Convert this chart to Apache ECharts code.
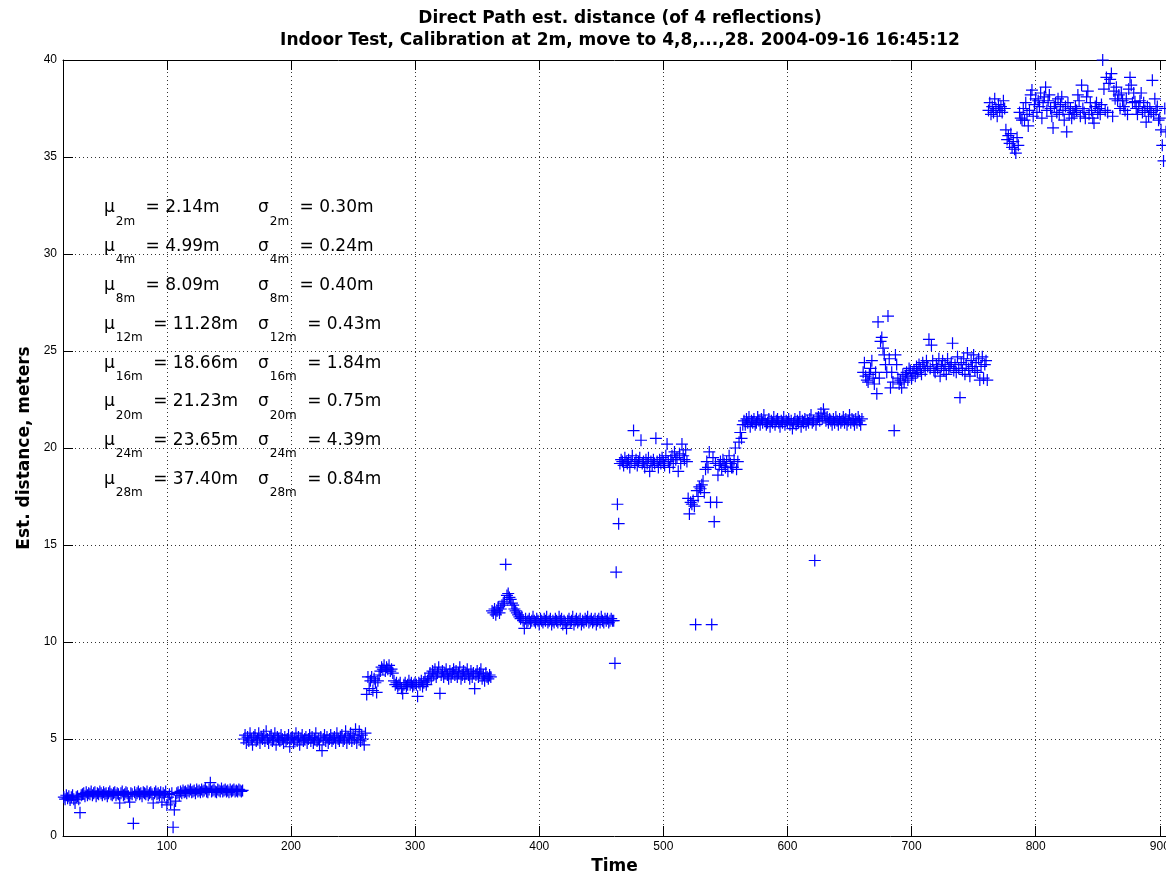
<!DOCTYPE html>
<html><head><meta charset="utf-8">
<script src="https://cdn.jsdelivr.net/npm/echarts@6/dist/echarts.min.js"></script>
<style>html,body{margin:0;padding:0;background:#fff}#c{width:1166px;height:875px}</style>
</head><body><div id="c"></div>
<script>
// ---- data ----
const xTicks = [100, 200, 300, 400, 500, 600, 700, 800, 900];
const yTicks = [0, 5, 10, 15, 20, 25, 30, 35, 40];
const segmentStart = [17, 162, 261, 362, 461, 565, 661, 762];

const dist2m = [
2.0,1.9,2.1,1.95,2.05,1.85,2.0,2.1,1.9,1.7,
2.0,2.05,1.9,1.2,2.1,2.15,2.2,2.05,2.25,2.1,
2.2,2.15,2.3,2.1,2.2,2.25,2.05,2.2,2.15,2.3,
2.2,2.1,2.25,2.15,2.2,2.05,2.2,2.3,2.15,2.1,
2.2,2.25,2.1,2.2,2.15,1.7,2.2,2.3,2.1,2.15,
2.25,2.2,2.05,1.75,2.2,2.15,0.65,2.25,2.1,2.2,
2.3,2.15,2.2,2.05,2.25,2.2,2.15,2.3,2.1,2.2,
2.25,2.15,1.7,2.2,2.3,2.15,2.2,2.1,2.25,1.75,
2.2,2.1,2.3,1.6,2.0,2.15,1.7,2.2,0.45,1.35,
1.8,2.2,2.25,2.1,2.3,2.2,2.35,2.25,2.3,2.2,
2.35,2.3,2.4,2.25,2.3,2.35,2.2,2.4,2.3,2.35,
2.25,2.4,2.3,2.35,2.45,2.3,2.25,2.4,2.75,2.3,
2.35,2.4,2.3,2.25,2.4,2.35,2.3,2.45,2.3,2.35,
2.4,2.3,2.35,2.25,2.4,2.3,2.35,2.4,2.3,2.35,
2.3,2.4,2.35,2.3,2.35];

const dist4m = [
5.0,5.2,4.8,5.1,4.9,5.3,5.0,4.7,5.1,5.2,
4.9,5.0,5.3,4.8,5.1,5.0,5.2,4.9,5.4,5.0,
4.8,5.1,5.2,4.9,5.0,5.3,4.7,5.1,5.0,4.9,
5.2,5.0,4.8,5.1,4.9,5.0,5.2,4.6,5.0,5.1,
4.8,5.0,5.3,4.9,5.1,4.7,5.0,5.2,4.9,5.0,
5.1,4.8,5.0,5.2,4.9,5.1,4.8,5.0,5.3,4.9,
5.0,4.7,5.1,4.4,5.0,5.2,4.9,5.1,4.8,5.0,
5.2,4.9,5.0,5.1,4.8,5.3,5.0,4.9,5.1,5.2,
4.9,5.0,5.4,4.8,5.1,5.0,5.3,4.9,5.2,5.0,
5.5,4.8,5.1,5.4,4.9,5.2,5.0,4.7,5.3];

const dist8m = [
7.3,8.2,7.6,8.0,8.2,7.5,8.1,7.9,7.4,8.0,
8.3,8.5,8.7,8.6,8.8,8.5,8.7,8.6,8.8,8.5,
8.6,8.4,8.0,7.8,7.9,7.7,7.8,7.9,7.6,7.35,
7.8,7.9,7.7,7.8,8.0,7.8,7.9,7.7,7.8,7.9,
7.8,7.2,7.9,7.8,8.0,7.7,7.9,8.1,7.8,8.0,
8.2,8.4,8.1,8.5,8.3,8.6,8.2,8.4,8.7,7.35,
8.3,8.5,8.2,8.4,8.6,8.3,8.1,8.5,8.2,8.4,
8.6,8.3,8.5,8.2,8.4,8.7,8.1,8.3,8.5,8.2,
8.4,8.6,8.3,8.1,8.5,8.2,8.4,7.6,8.3,8.5,
8.2,8.4,8.6,8.1,8.3,8.0,8.4,8.2,8.1,8.3,
8.2];

const dist12m = [
11.6,11.5,11.7,11.4,11.6,11.8,11.5,11.7,11.9,12.0,
12.1,14.0,12.4,12.5,12.3,12.2,12.0,11.9,11.7,11.6,
11.5,11.4,11.3,11.2,11.3,11.1,10.7,11.2,11.0,11.1,
11.2,11.0,11.1,11.3,11.1,11.0,11.2,11.1,10.9,11.2,
11.1,11.0,11.2,11.1,11.3,11.0,11.1,11.2,10.9,11.1,
11.0,11.2,11.1,11.0,11.3,11.1,11.2,10.9,11.1,11.0,
10.7,11.1,11.2,11.0,11.1,11.3,10.9,11.1,11.2,11.0,
11.1,11.2,10.9,11.1,11.0,11.2,11.1,11.3,11.0,11.1,
11.2,11.0,11.1,11.2,10.9,11.1,11.2,11.0,11.3,11.1,
11.0,11.2,11.1,11.2,11.0,11.1,11.2,11.1,11.1];

const dist16m = [
8.9,13.6,17.1,16.1,19.2,19.4,19.3,19.1,19.5,19.3,
19.2,19.4,19.0,19.3,19.6,20.9,19.2,19.4,19.1,19.3,
19.5,20.4,19.2,19.3,19.0,19.4,19.2,19.5,18.8,19.3,
19.1,19.4,19.2,20.5,19.3,19.0,19.4,19.2,19.5,19.3,
19.1,19.6,20.2,19.3,19.0,19.4,19.6,19.2,19.8,19.4,
19.5,18.8,19.7,19.2,20.2,19.6,19.4,19.9,19.3,17.4,
16.6,17.2,17.1,17.3,17.0,10.9,17.8,17.5,18.0,17.9,
18.1,18.3,17.7,18.9,19.3,19.0,19.8,17.2,10.9,19.5,
16.2,19.2,17.2,18.6,19.1,19.3,18.9,19.4,19.2,19.0,
19.3,18.8,19.6,19.2,19.0,19.0,19.4,20.0,18.9,19.3,
20.3,20.8,20.5,21.2];

const dist20m = [
21.4,21.2,21.5,21.3,21.6,21.1,21.4,21.3,21.5,21.2,
21.3,21.6,21.4,21.2,21.5,21.3,21.7,21.4,21.2,21.3,
21.5,21.1,21.4,21.3,21.6,21.2,21.4,21.5,21.3,21.1,
21.4,21.3,21.6,21.2,21.4,21.3,21.5,21.2,21.4,21.0,
21.3,21.5,21.2,21.4,21.3,21.6,21.1,21.4,21.3,21.5,
21.2,21.4,21.3,21.5,21.7,21.3,21.4,14.2,21.2,21.5,
21.6,21.4,21.8,21.5,22.0,21.7,21.4,21.6,21.3,21.5,
21.4,21.2,21.5,21.3,21.6,21.4,21.2,21.5,21.3,21.4,
21.6,21.3,21.5,21.2,21.4,21.7,21.3,21.5,21.4,21.2,
21.5,21.3,21.6,21.4,21.2,21.5];

const dist24m = [
23.9,24.4,23.7,23.5,23.4,23.8,24.1,24.5,23.6,23.3,
23.9,22.8,26.5,23.6,25.5,25.7,25.15,24.8,24.3,23.9,
26.8,24.6,23.1,23.9,23.4,20.9,24.8,24.3,23.6,23.3,
23.5,23.1,23.8,23.4,23.7,23.9,23.5,24.1,24.0,23.6,
23.85,24.0,23.7,24.2,23.9,24.3,24.1,23.8,24.4,24.2,
24.0,24.5,24.2,25.6,24.1,25.3,24.5,24.0,23.9,24.3,
24.1,24.6,23.7,24.2,24.5,24.0,24.3,23.8,24.6,24.1,
24.2,24.4,25.4,24.0,24.3,23.9,24.7,24.1,22.6,24.4,
24.0,24.6,23.8,24.3,24.9,24.1,23.7,24.5,24.2,24.8,
24.0,24.4,23.9,24.6,23.5,24.2,24.7,23.6,24.3,24.5,
23.5];

const dist28m = [
37.4,37.8,37.2,37.6,37.3,38.0,37.5,37.1,37.7,37.4,
37.6,37.3,37.9,37.5,36.4,35.9,36.1,35.7,36.2,35.5,
35.8,35.4,35.2,36.0,35.6,37.3,37.0,36.9,37.5,36.9,
37.8,37.2,36.6,37.4,38.2,38.45,37.1,37.7,38.0,37.3,
37.9,37.6,38.3,37.0,37.8,38.1,38.6,37.4,37.9,38.2,
37.5,37.1,36.5,37.6,37.8,37.3,38.0,37.2,37.7,38.1,
37.4,36.9,37.6,36.3,37.8,37.2,37.5,37.0,37.3,37.2,
37.6,37.4,38.2,37.9,37.1,38.7,37.5,37.3,37.0,38.1,
38.4,37.2,37.8,37.4,37.0,36.75,37.6,37.8,37.3,37.5,
37.2,37.7,40.0,38.5,37.4,39.1,37.3,38.8,39.0,39.3,
37.1,38.4,38.0,38.6,37.9,38.2,37.5,38.3,37.9,37.6,
37.4,38.0,37.2,38.5,39.1,38.7,37.8,38.3,37.85,37.5,
37.2,37.6,37.9,38.3,37.3,37.8,37.4,36.8,37.6,37.1,
37.5,37.3,38.95,37.2,38.0,37.4,37.6,36.9,37.0,36.4,
35.6,34.8,37.5,36.3];

const statLabels = ['2m', '4m', '8m', '12m', '16m', '20m', '24m', '28m'];
const statMeans = ['2.14', '4.99', '8.09', '11.28', '18.66', '21.23', '23.65', '37.40'];
const statStds = ['0.30', '0.24', '0.40', '0.43', '1.84', '0.75', '4.39', '0.84'];

const titleLines = [
  'Direct Path est. distance (of 4 reflections)',
  'Indoor Test, Calibration at 2m, move to 4,8,...,28. 2004-09-16 16:45:12'
];

// ---- build ----
const segments = [dist2m, dist4m, dist8m, dist12m, dist16m, dist20m, dist24m, dist28m];
const points = [];
segments.forEach((vals, k) => vals.forEach((v, i) => points.push([segmentStart[k] + i, v])));

const rich = {
  g: { fontFamily: 'DejaVu Sans', fontSize: 17, fill: '#000', lineHeight: 20, verticalAlign: 'middle' },
  s: { fontFamily: 'DejaVu Sans', fontSize: 12, fill: '#000', lineHeight: 12, padding: [27, 5, 0, 1], verticalAlign: 'middle' }
};
const graphics = [];
titleLines.forEach((t, i) => graphics.push({
  type: 'text', x: 620, y: 18.5 + i * 22,
  style: { text: t, fontFamily: 'DejaVu Sans', fontWeight: 'bold', fontSize: 17, fill: '#000',
           textAlign: 'center', textVerticalAlign: 'middle' }
}));
statLabels.forEach((lab, i) => {
  const y = 208 + i * 38.8;
  graphics.push({ type: 'text', x: 104, y: y, z: 100,
    style: { text: '{g|μ}{s|' + lab + '}{g| = ' + statMeans[i] + 'm}', rich: rich, textVerticalAlign: 'middle' } });
  graphics.push({ type: 'text', x: 258, y: y, z: 100,
    style: { text: '{g|σ}{s|' + lab + '}{g| = ' + statStds[i] + 'm}', rich: rich, textVerticalAlign: 'middle' } });
});

const XMIN = 16.3, XMAX = 905;
const gridLine = { show: true, lineStyle: { type: [1, 3], color: '#333', width: 1 } };
const axisLineStyle = { show: true, onZero: false, lineStyle: { color: '#000', width: 1 } };

const chart = echarts.init(document.getElementById('c'), null, { renderer: 'canvas' });
chart.setOption({
  animation: false,
  backgroundColor: '#fff',
  grid: { left: 63, right: 0, top: 60, bottom: 39, containLabel: false, outerBoundsMode: 'none' },
  xAxis: [{
    type: 'value', min: XMIN, max: XMAX, position: 'bottom',
    name: 'Time', nameLocation: 'middle', nameGap: 19,
    nameTextStyle: { fontFamily: 'DejaVu Sans', fontWeight: 'bold', fontSize: 17, color: '#000' },
    axisLine: axisLineStyle,
    axisTick: { show: true, inside: true, length: 10, customValues: xTicks, lineStyle: { color: '#000' } },
    axisLabel: { customValues: xTicks, fontFamily: 'Liberation Sans', fontSize: 12, color: '#000', margin: 5 },
    splitLine: gridLine
  }, {
    type: 'value', min: XMIN, max: XMAX, position: 'top',
    axisLine: axisLineStyle,
    axisTick: { show: true, inside: true, length: 10, customValues: xTicks, lineStyle: { color: '#000' } },
    axisLabel: { show: false },
    splitLine: { show: false }
  }],
  yAxis: [{
    type: 'value', min: 0, max: 40, interval: 5,
    name: 'Est. distance, meters', nameLocation: 'middle', nameGap: 30,
    nameTextStyle: { fontFamily: 'DejaVu Sans', fontWeight: 'bold', fontSize: 17, color: '#000' },
    axisLine: axisLineStyle,
    axisTick: { show: true, inside: true, length: 10, customValues: yTicks, lineStyle: { color: '#000' } },
    axisLabel: { customValues: yTicks, fontFamily: 'Liberation Sans', fontSize: 12, color: '#000', margin: 6 },
    splitLine: gridLine
  }],
  series: [{
    type: 'scatter',
    xAxisIndex: 0, yAxisIndex: 0,
    data: points,
    symbol: 'path://M0,6L12,6M6,0L6,12',
    symbolSize: 12,
    clip: false,
    itemStyle: { color: '#0000ff', borderColor: '#0000ff', borderWidth: 1.2, opacity: 1 },
    emphasis: { disabled: true },
    silent: true
  }],
  graphic: graphics
});
</script></body></html>
